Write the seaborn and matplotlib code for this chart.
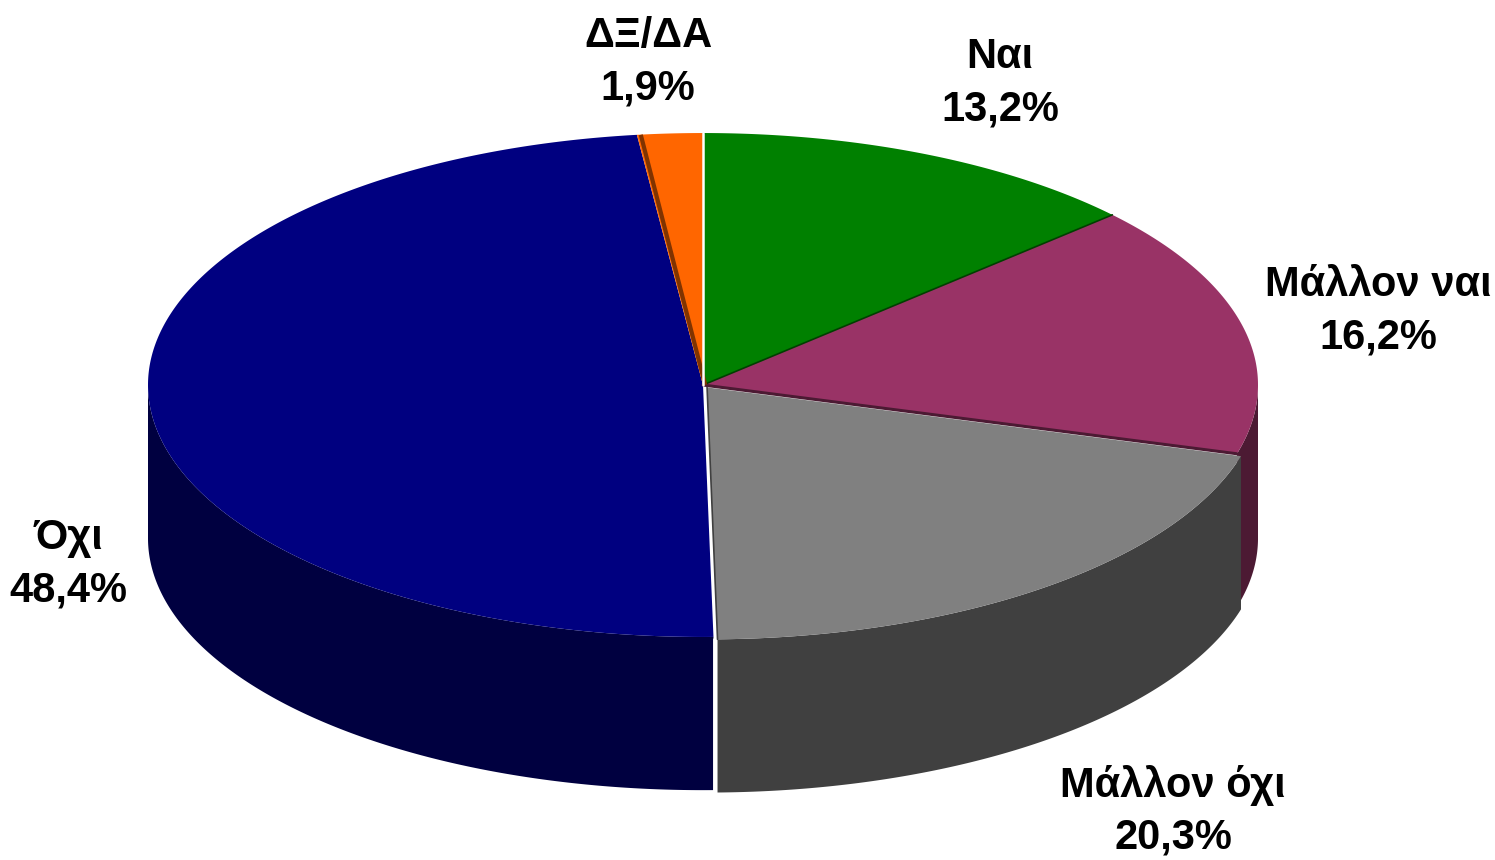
import numpy as np
import pandas as pd
from matplotlib import pyplot as plt
from matplotlib.patches import Polygon
import seaborn as sns

# answers and shares (%)
labels = ['Ναι', 'Μάλλον ναι', 'Μάλλον όχι', 'Όχι', 'ΔΞ/ΔΑ']
shares = [13.2, 16.2, 20.3, 48.4, 1.9]
top_colors = ['#008000', '#993366', '#808080', '#000080', '#FF6600']
side_colors = ['#004000', '#4C1A33', '#404040', '#000040', '#803300']
explode = [0.0, 0.0, 0.012, 0.0, 0.0]

# label placement (data units, pie radius = 1)
label_x = [0.535, 1.216, 0.847, -1.144, -0.099]
label_y = [0.543, 0.133, -0.768, -0.323, 0.582]

df = pd.DataFrame({'label': labels, 'share': shares})

sns.set_theme(style='white')
plt.rcParams['font.family'] = ['Liberation Sans', 'DejaVu Sans']

B = 0.454      # vertical squash of the ellipse
DEPTH = 0.276  # thickness of the pie


def ell(t, dx=0.0, dy=0.0, drop=0.0):
    return np.column_stack([np.cos(t) + dx, B * np.sin(t) + dy - drop])


fig = plt.figure(figsize=(14.95, 8.6), dpi=100)
ax = fig.add_axes([0, 0, 1, 1])

# slice angles, clockwise from 12 o'clock
ends = 90 - 360 * np.cumsum(df['share']) / df['share'].sum()
starts = np.concatenate([[90], ends[:-1]])
slices = []
for i in range(len(df)):
    hi, lo = np.radians(starts[i]), np.radians(ends.iloc[i])
    mid = (hi + lo) / 2
    dx = explode[i] * np.cos(mid)
    dy = explode[i] * B * np.sin(mid)
    slices.append((hi, lo, dx, dy))

# front side walls
for i, (hi, lo, dx, dy) in enumerate(slices):
    for win_lo, win_hi in [(-np.pi, 0), (-3 * np.pi, -2 * np.pi)]:
        a, b = max(lo, win_lo), min(hi, win_hi)
        if a >= b:
            continue
        t = np.linspace(a, b, 200)
        pts = np.vstack([ell(t, dx, dy), ell(t[::-1], dx, dy, DEPTH)])
        ax.add_patch(Polygon(pts, closed=True, facecolor=side_colors[i],
                             edgecolor='none', zorder=1))

# top faces
for i, (hi, lo, dx, dy) in enumerate(slices):
    t = np.linspace(lo, hi, 300)
    pts = np.vstack([[dx, dy], ell(t, dx, dy)])
    ax.add_patch(Polygon(pts, closed=True, facecolor=top_colors[i],
                         edgecolor='none', zorder=2))

# slice boundaries
for i, (hi, lo, dx, dy) in enumerate(slices):
    if i < 3:
        ax.plot([dx, np.cos(lo) + dx], [dy, B * np.sin(lo) + dy],
                color=side_colors[i], lw=1.2 if i != 1 else 2.2, zorder=3)
o_hi, o_lo, o_dx, o_dy = slices[4]
ax.plot([o_dx + 0.004, np.cos(o_hi) + 0.007], [o_dy, B * np.sin(o_hi)],
        color=side_colors[4], lw=3, zorder=3, solid_capstyle='butt')
ax.plot([0, 0], [0, B], color='white', lw=1.8, zorder=3)

# gap between navy and gray walls
g_hi, g_lo, g_dx, g_dy = slices[2]
ax.plot([np.cos(g_lo) + g_dx - 0.006] * 2,
        [B * np.sin(g_lo) + g_dy, B * np.sin(g_lo) + g_dy - DEPTH],
        color='white', lw=2, zorder=1.5)

for i, row in df.iterrows():
    txt = f"{row['label']}\n{row['share']:.1f}%".replace('.', ',')
    ax.text(label_x[i], label_y[i], txt, ha='center', va='center',
            fontsize=30, fontweight='bold', linespacing=1.4, color='black')

ax.set_xlim(-703 / 555, 792 / 555)
ax.set_ylim(-475 / 555, 385 / 555)
ax.axis('off')

plt.savefig('out.png', dpi=100)
